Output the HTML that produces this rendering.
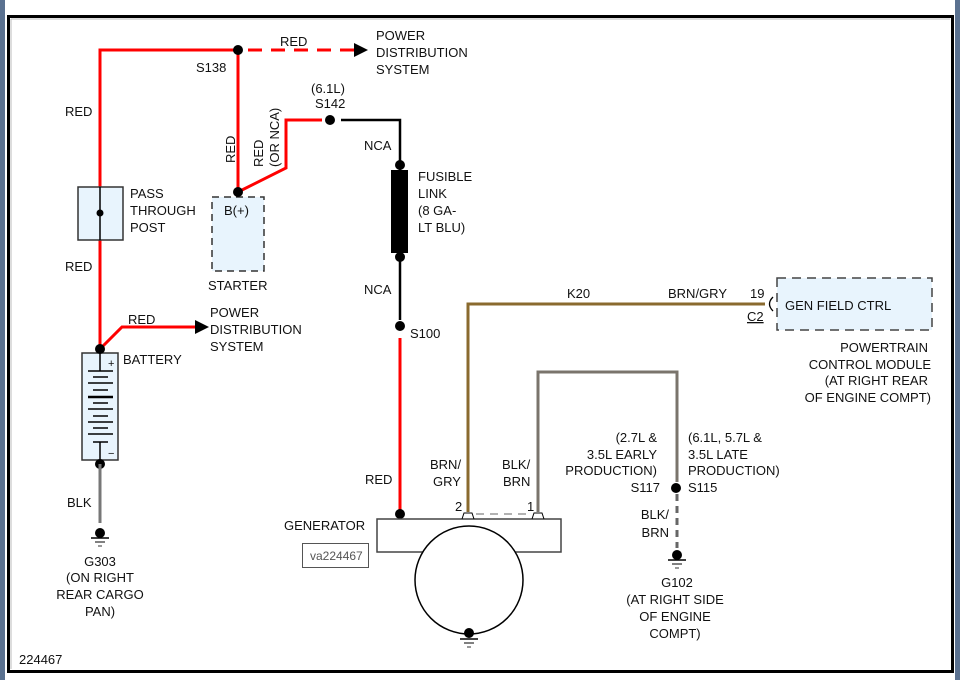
<!DOCTYPE html>
<html><head><meta charset="utf-8"><style>
html,body{margin:0;padding:0;background:#fff;}
svg{display:block;}
text{font-family:"Liberation Sans",Arial,sans-serif;font-size:13px;fill:#111;}
</style></head><body>
<svg width="960" height="680" viewBox="0 0 960 680" xmlns="http://www.w3.org/2000/svg">
<rect x="0" y="0" width="960" height="680" fill="#fff"/>
<rect x="0" y="0" width="5" height="680" fill="#5a7190"/>
<rect x="955" y="0" width="5" height="680" fill="#5a7190"/>
<rect x="8.5" y="16.5" width="944" height="655" fill="#fff" stroke="#000" stroke-width="3"/>
<line x1="11" y1="19" x2="950" y2="19" stroke="#bbb" stroke-width="1"/>
<line x1="11" y1="19" x2="11" y2="669" stroke="#bbb" stroke-width="1"/>

<!-- red main -->
<polyline points="100,349 100,50 238,50 238,192" fill="none" stroke="#f00" stroke-width="3"/>
<line x1="248" y1="50" x2="354" y2="50" stroke="#f00" stroke-width="3" stroke-dasharray="14,9"/>
<polygon points="354,43 368,50 354,57" fill="#000"/>
<circle cx="238" cy="50" r="5" fill="#000"/>
<polyline points="238,192 286,168 286,120 322,120" fill="none" stroke="#f00" stroke-width="3"/>
<circle cx="330" cy="120" r="5" fill="#000"/>
<polyline points="341,120 400,120 400,320" fill="none" stroke="#000" stroke-width="2.5"/>
<rect x="391" y="170" width="17" height="83" fill="#000"/>
<circle cx="400" cy="165" r="5" fill="#000"/>
<circle cx="400" cy="257" r="5" fill="#000"/>
<circle cx="400" cy="326" r="5" fill="#000"/>
<line x1="400" y1="338" x2="400" y2="514" stroke="#f00" stroke-width="3"/>
<circle cx="400" cy="514" r="5" fill="#000"/>

<!-- pass through post -->
<rect x="78" y="187" width="45" height="53" fill="#e8f4fd" stroke="#333" stroke-width="1.5"/>
<line x1="100" y1="187" x2="100" y2="240" stroke="#000" stroke-width="1.5"/>
<circle cx="100" cy="213" r="3.5" fill="#000"/>

<!-- starter -->
<rect x="212" y="197" width="52" height="74" fill="#e8f4fd" stroke="#333" stroke-width="1.5" stroke-dasharray="7,5"/>
<circle cx="238" cy="192" r="5" fill="#000"/>
<text x="224" y="215">B(+)</text>
<text x="208" y="290">STARTER</text>

<!-- battery -->
<polyline points="100,349 122,327 195,327" fill="none" stroke="#f00" stroke-width="3"/>
<polygon points="195,320 209,327 195,334" fill="#000"/>
<rect x="82" y="353" width="36" height="107" fill="#e8f4fd" stroke="#333" stroke-width="1.5"/>
<line x1="100" y1="353" x2="100" y2="371" stroke="#000" stroke-width="1.5"/>
<line x1="88" y1="371" x2="113" y2="371" stroke="#000" stroke-width="1.5"/>
<line x1="93" y1="377" x2="108" y2="377" stroke="#000" stroke-width="1.5"/>
<line x1="88" y1="383" x2="113" y2="383" stroke="#000" stroke-width="1.5"/>
<line x1="93" y1="390" x2="108" y2="390" stroke="#000" stroke-width="1.5"/>
<line x1="88" y1="397" x2="113" y2="397" stroke="#000" stroke-width="2.5"/>
<line x1="93" y1="403" x2="108" y2="403" stroke="#000" stroke-width="1.5"/>
<line x1="88" y1="409" x2="113" y2="409" stroke="#000" stroke-width="1.5"/>
<line x1="93" y1="416" x2="108" y2="416" stroke="#000" stroke-width="1.5"/>
<line x1="88" y1="422" x2="113" y2="422" stroke="#000" stroke-width="1.5"/>
<line x1="93" y1="428" x2="108" y2="428" stroke="#000" stroke-width="1.5"/>
<line x1="88" y1="434" x2="113" y2="434" stroke="#000" stroke-width="1.5"/>
<line x1="93" y1="442" x2="108" y2="442" stroke="#000" stroke-width="1.5"/>
<line x1="100" y1="442" x2="100" y2="460" stroke="#000" stroke-width="1.5"/>
<text x="108" y="367" style="font-size:11px">+</text>
<text x="108" y="457" style="font-size:11px">−</text>
<circle cx="100" cy="349" r="5" fill="#000"/>
<circle cx="100" cy="464" r="5" fill="#000"/>
<line x1="100" y1="464" x2="100" y2="523" stroke="#777" stroke-width="3"/>
<circle cx="100" cy="533" r="5" fill="#000"/>
<line x1="91" y1="538" x2="109" y2="538" stroke="#000" stroke-width="1.5"/>
<line x1="95" y1="542" x2="105" y2="542" stroke="#555" stroke-width="1.5"/>
<line x1="98" y1="546" x2="102" y2="546" stroke="#777" stroke-width="1.5"/>

<!-- brown & gray wires -->
<polyline points="468,512 468,304 765,304" fill="none" stroke="#8a6a2e" stroke-width="3"/>
<polyline points="538,512 538,372 677,372 677,482" fill="none" stroke="#7a746c" stroke-width="3"/>
<line x1="677" y1="494" x2="677" y2="548" stroke="#666" stroke-width="3" stroke-dasharray="7,5"/>
<circle cx="676" cy="488" r="5" fill="#000"/>
<circle cx="677" cy="555" r="5" fill="#000"/>
<line x1="668" y1="560" x2="686" y2="560" stroke="#000" stroke-width="1.5"/>
<line x1="672" y1="564" x2="682" y2="564" stroke="#555" stroke-width="1.5"/>
<line x1="675" y1="568" x2="679" y2="568" stroke="#777" stroke-width="1.5"/>
<path d="M773,297 Q766,304 773,311" fill="none" stroke="#000" stroke-width="1.3"/>

<!-- PCM -->
<rect x="777" y="278" width="155" height="52" fill="#e8f4fd" stroke="#444" stroke-width="1.5" stroke-dasharray="9,6"/>
<text x="785" y="310">GEN FIELD CTRL</text>

<!-- generator -->
<rect x="377" y="519" width="184" height="33" fill="#fff" stroke="#444" stroke-width="1.5"/>
<circle cx="469" cy="580" r="54" fill="#fff" stroke="#000" stroke-width="1.5"/>
<path d="M462,519 L464,513 L472,513 L474,519" fill="none" stroke="#000" stroke-width="1"/>
<path d="M532,519 L534,513 L542,513 L544,519" fill="none" stroke="#000" stroke-width="1"/>
<line x1="476" y1="514" x2="530" y2="514" stroke="#666" stroke-width="1" stroke-dasharray="8,6"/>
<circle cx="469" cy="633" r="5" fill="#000"/>
<line x1="460" y1="639" x2="478" y2="639" stroke="#000" stroke-width="1.5"/>
<line x1="464" y1="643" x2="474" y2="643" stroke="#555" stroke-width="1.5"/>
<line x1="467" y1="647" x2="471" y2="647" stroke="#777" stroke-width="1.5"/>
<rect x="302.5" y="543.5" width="66" height="24" fill="#fff" stroke="#555" stroke-width="1"/>
<text x="310" y="560" style="fill:#555;font-size:12px">va224467</text>

<!-- labels -->
<text x="65" y="116">RED</text>
<text x="65" y="271">RED</text>
<text x="196" y="72">S138</text>
<text x="280" y="46">RED</text>
<text x="376" y="40">POWER</text>
<text x="376" y="57">DISTRIBUTION</text>
<text x="376" y="74">SYSTEM</text>
<text x="311" y="93">(6.1L)</text>
<text x="315" y="108">S142</text>
<text transform="translate(235,163) rotate(-90)">RED</text>
<text transform="translate(263,167) rotate(-90)">RED</text>
<text transform="translate(279,167) rotate(-90)">(OR NCA)</text>
<text x="364" y="150">NCA</text>
<text x="418" y="181">FUSIBLE</text>
<text x="418" y="198">LINK</text>
<text x="418" y="215">(8 GA-</text>
<text x="418" y="232">LT BLU)</text>
<text x="364" y="294">NCA</text>
<text x="410" y="338">S100</text>
<text x="130" y="198">PASS</text>
<text x="130" y="215">THROUGH</text>
<text x="130" y="232">POST</text>
<text x="128" y="324">RED</text>
<text x="210" y="317">POWER</text>
<text x="210" y="334">DISTRIBUTION</text>
<text x="210" y="351">SYSTEM</text>
<text x="123" y="364">BATTERY</text>
<text x="67" y="507">BLK</text>
<text x="100" y="566" text-anchor="middle">G303</text>
<text x="100" y="582" text-anchor="middle">(ON RIGHT</text>
<text x="100" y="599" text-anchor="middle">REAR CARGO</text>
<text x="100" y="616" text-anchor="middle">PAN)</text>
<text x="19" y="664">224467</text>
<text x="365" y="484">RED</text>
<text x="284" y="530">GENERATOR</text>
<text x="430" y="469">BRN/</text>
<text x="433" y="486">GRY</text>
<text x="502" y="469">BLK/</text>
<text x="503" y="486">BRN</text>
<text x="455" y="511">2</text>
<text x="527" y="511">1</text>
<text x="567" y="298">K20</text>
<text x="668" y="298">BRN/GRY</text>
<text x="750" y="298">19</text>
<text x="747" y="321" style="text-decoration:underline">C2</text>
<text x="928" y="352" text-anchor="end">POWERTRAIN</text>
<text x="931" y="369" text-anchor="end">CONTROL MODULE</text>
<text x="928" y="385" text-anchor="end">(AT RIGHT REAR</text>
<text x="931" y="402" text-anchor="end">OF ENGINE COMPT)</text>
<text x="657" y="442" text-anchor="end">(2.7L &amp;</text>
<text x="657" y="459" text-anchor="end">3.5L EARLY</text>
<text x="657" y="475" text-anchor="end">PRODUCTION)</text>
<text x="660" y="492" text-anchor="end">S117</text>
<text x="688" y="442">(6.1L, 5.7L &amp;</text>
<text x="688" y="459">3.5L LATE</text>
<text x="688" y="475">PRODUCTION)</text>
<text x="688" y="492">S115</text>
<text x="669" y="519" text-anchor="end">BLK/</text>
<text x="669" y="537" text-anchor="end">BRN</text>
<text x="677" y="587" text-anchor="middle">G102</text>
<text x="675" y="604" text-anchor="middle">(AT RIGHT SIDE</text>
<text x="675" y="621" text-anchor="middle">OF ENGINE</text>
<text x="675" y="638" text-anchor="middle">COMPT)</text>
</svg>
</body></html>
